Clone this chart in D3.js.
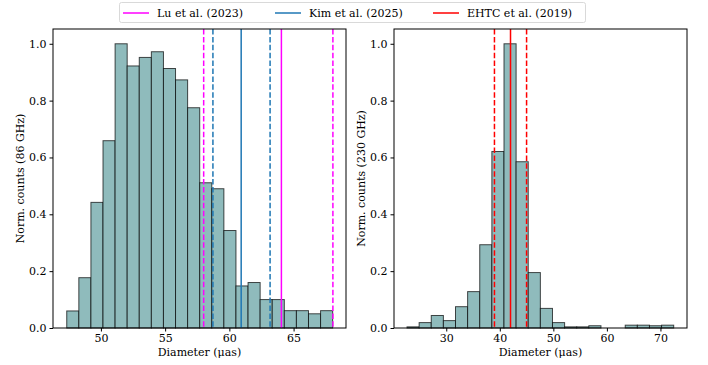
<!DOCTYPE html>
<html>
<head>
<meta charset="utf-8">
<script src="https://cdn.jsdelivr.net/npm/d3@7"></script>
<style>
  body { margin: 0; background: #fff; }
</style>
</head>
<body>
<div id="chart"></div>
<script>
// 86 GHz histogram (normalised counts), 22 bins
const left86Start = 47.34;
const left86BinWidth = 0.941;
const left86Counts = [0.060, 0.177, 0.442, 0.659, 1.0, 0.922, 0.952, 0.972, 0.913, 0.873, 0.775,
  0.511, 0.490, 0.343, 0.148, 0.160, 0.100, 0.100, 0.061, 0.061, 0.050, 0.061];

// 230 GHz histogram, 22 bins
const right230Start = 22.67;
const right230BinWidth = 2.264;
const right230Counts = [0.004, 0.019, 0.044, 0.026, 0.075, 0.128, 0.293, 0.621, 1.0, 0.585, 0.195,
  0.069, 0.019, 0.004, 0.004, 0.008, 0, 0, 0.010, 0.010, 0.008, 0.010];

// reference measurements [value, lower, upper]
const luRef = [64.05, 58.0, 68.06];
const kimRef = [60.92, 58.72, 63.17];
const ehtcRef = [42.0, 39.0, 45.0];

const leftTicks = [50, 55, 60, 65];
const rightTicks = [30, 40, 50, 60, 70];
const yTicks = [0, 0.2, 0.4, 0.6, 0.8, 1.0];

const legendItems = [
  { label: "Lu et al. (2023)", color: "#ff00ff" },
  { label: "Kim et al. (2025)", color: "#1f77b4" },
  { label: "EHTC et al. (2019)", color: "#ff0000" }
];

const width = 708;
const height = 365;
const plotTop = 29;
const plotBottom = 328;
const fontFam = "'DejaVu Serif', serif";
const fs = "11px";

const svg = d3.select("#chart").append("svg")
  .attr("width", width)
  .attr("height", height)
  .style("font-family", fontFam)
  .style("font-size", fs);

const y = d3.scaleLinear().domain([0, 1.052]).range([plotBottom, plotTop]);

const drawPanel = (x0, x1, domain, start, bw, counts, ticks, ylabel, ylabelX, refs) => {
  const x = d3.scaleLinear().domain(domain).range([x0, x1]);
  const g = svg.append("g");

  // bars
  g.selectAll("rect")
    .data(counts)
    .enter()
    .append("rect")
    .attr("x", (d, i) => x(start + i * bw))
    .attr("y", (d) => y(d))
    .attr("width", (d, i) => x(start + (i + 1) * bw) - x(start + i * bw))
    .attr("height", (d) => y(0) - y(d))
    .attr("fill", "#8fbbbc")
    .attr("stroke", "rgba(0,0,0,0.7)")
    .attr("stroke-width", 1);

  // reference lines
  refs.forEach((r) => {
    r.vals.forEach((v, i) => {
      g.append("line")
        .attr("x1", x(v)).attr("x2", x(v))
        .attr("y1", plotTop).attr("y2", plotBottom)
        .attr("stroke", r.color)
        .attr("stroke-width", 1.5)
        .attr("stroke-dasharray", i === 0 ? null : "5.5,2.4");
    });
  });

  // frame
  g.append("rect")
    .attr("x", x0).attr("y", plotTop)
    .attr("width", x1 - x0).attr("height", plotBottom - plotTop)
    .attr("fill", "none").attr("stroke", "#000").attr("stroke-width", 1);

  const xAxis = g.append("g")
    .attr("transform", `translate(0,${plotBottom})`)
    .call(d3.axisBottom(x).tickValues(ticks).tickSize(3.5).tickPadding(3).tickFormat(d3.format("d")));
  const yAxis = g.append("g")
    .attr("transform", `translate(${x0},0)`)
    .call(d3.axisLeft(y).tickValues(yTicks).tickSize(3.5).tickPadding(3).tickFormat(d3.format(".1f")));
  [xAxis, yAxis].forEach((a) => {
    a.attr("font-family", null).attr("font-size", null);
    a.select(".domain").remove();
    a.selectAll("text").style("font-family", fontFam).style("font-size", fs).attr("fill", "#000");
  });

  g.append("text")
    .attr("x", (x0 + x1) / 2)
    .attr("y", 356)
    .attr("text-anchor", "middle")
    .style("font-family", fontFam)
    .style("font-size", fs)
    .text("Diameter (\u03bcas)");

  g.append("text")
    .attr("transform", `translate(${ylabelX},${(plotTop + plotBottom) / 2}) rotate(-90)`)
    .attr("text-anchor", "middle")
    .attr("dy", "0.35em")
    .style("font-family", fontFam)
    .style("font-size", fs)
    .text(ylabel);
};

drawPanel(53, 346, [46.27, 69.08], left86Start, left86BinWidth, left86Counts, leftTicks,
  "Norm. counts (86 GHz)", 20,
  [{ vals: luRef, color: "#ff00ff" }, { vals: kimRef, color: "#1f77b4" }]);

drawPanel(394, 687, [20.24, 74.96], right230Start, right230BinWidth, right230Counts, rightTicks,
  "Norm. counts (230 GHz)", 361,
  [{ vals: ehtcRef, color: "#ff0000" }]);

// legend
const legend = svg.append("g");
legend.append("rect")
  .attr("x", 119.5).attr("y", 2.5)
  .attr("width", 466).attr("height", 20)
  .attr("rx", 2)
  .attr("fill", "#fff")
  .attr("stroke", "#d9d9d9");
const legendX = [123, 275, 433];
legendItems.forEach((d, i) => {
  legend.append("line")
    .attr("x1", legendX[i]).attr("x2", legendX[i] + 26)
    .attr("y1", 13).attr("y2", 13)
    .attr("stroke", d.color).attr("stroke-width", 1.5);
  legend.append("text")
    .attr("x", legendX[i] + 34)
    .attr("y", 13)
    .attr("dy", "0.35em")
    .style("font-family", fontFam)
    .style("font-size", fs)
    .text(d.label);
});
</script>
</body>
</html>
